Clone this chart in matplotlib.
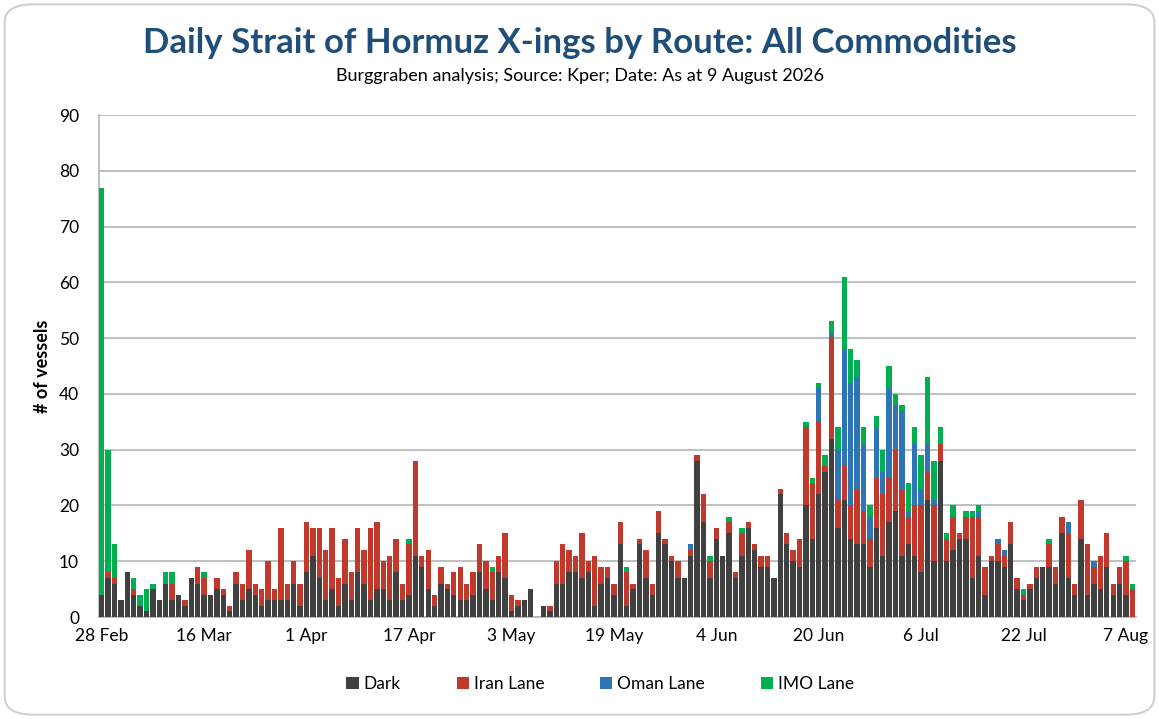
import numpy as np
import pandas as pd
import matplotlib
matplotlib.use("Agg")
import matplotlib.pyplot as plt
from matplotlib.patches import FancyBboxPatch

# daily crossings, 28 Feb .. 8 Aug 2026 (one row = 16 days)
dark = [
    4, 7, 6, 3, 8, 4, 2, 1, 5, 3, 6, 3, 4, 2, 7, 6,
    4, 4, 5, 4, 1, 6, 3, 5, 4, 2, 3, 3, 3, 3, 6, 2,
    8, 11, 7, 3, 5, 2, 6, 3, 8, 6, 3, 5, 5, 3, 8, 3,
    4, 11, 9, 5, 2, 6, 5, 4, 3, 3, 4, 8, 5, 3, 8, 7,
    1, 2, 3, 5, 0, 2, 1, 6, 6, 8, 8, 7, 8, 2, 6, 7,
    4, 13, 2, 5, 13, 7, 4, 15, 13, 10, 7, 7, 11, 28, 17, 7,
    14, 11, 15, 7, 11, 16, 12, 9, 9, 7, 22, 13, 10, 9, 20, 14,
    22, 26, 32, 16, 21, 14, 13, 13, 9, 16, 11, 17, 19, 11, 13, 11,
    8, 21, 10, 28, 10, 12, 14, 14, 7, 11, 4, 10, 10, 9, 13, 5,
    3, 5, 7, 9, 9, 6, 15, 7, 4, 14, 4, 6, 5, 9, 4, 6,
    4, 0,
]
iran = [
    0, 1, 1, 0, 0, 1, 0, 0, 0, 0, 0, 3, 0, 1, 0, 3,
    3, 0, 2, 1, 1, 2, 3, 7, 2, 3, 7, 2, 13, 3, 4, 4,
    9, 5, 9, 9, 11, 5, 8, 5, 8, 6, 13, 12, 5, 8, 6, 3,
    9, 17, 2, 7, 2, 3, 1, 4, 6, 3, 4, 5, 5, 5, 3, 8,
    3, 1, 0, 0, 0, 0, 1, 4, 7, 4, 3, 8, 2, 9, 3, 2,
    2, 4, 6, 1, 1, 5, 2, 4, 1, 1, 3, 0, 1, 1, 5, 3,
    2, 0, 2, 1, 4, 1, 1, 2, 2, 0, 1, 2, 2, 5, 14, 10,
    13, 1, 18, 5, 6, 6, 10, 6, 5, 9, 11, 8, 11, 12, 5, 9,
    12, 5, 10, 3, 4, 6, 1, 4, 11, 7, 5, 1, 3, 2, 4, 2,
    1, 1, 2, 0, 4, 3, 3, 8, 2, 7, 9, 3, 6, 6, 2, 3,
    6, 5,
]
oman = [
    0, 0, 0, 0, 0, 0, 0, 0, 0, 0, 0, 0, 0, 0, 0, 0,
    0, 0, 0, 0, 0, 0, 0, 0, 0, 0, 0, 0, 0, 0, 0, 0,
    0, 0, 0, 0, 0, 0, 0, 0, 0, 0, 0, 0, 0, 0, 0, 0,
    0, 0, 0, 0, 0, 0, 0, 0, 0, 0, 0, 0, 0, 0, 0, 0,
    0, 0, 0, 0, 0, 0, 0, 0, 0, 0, 0, 0, 0, 0, 0, 0,
    0, 0, 0, 0, 0, 0, 0, 0, 0, 0, 0, 0, 1, 0, 0, 0,
    0, 0, 0, 0, 0, 0, 0, 0, 0, 0, 0, 0, 0, 0, 0, 0,
    6, 0, 1, 9, 21, 22, 20, 12, 4, 9, 4, 16, 8, 14, 1, 11,
    3, 5, 1, 0, 0, 0, 0, 0, 0, 1, 0, 0, 1, 1, 0, 0,
    0, 0, 0, 0, 0, 0, 0, 2, 0, 0, 0, 1, 0, 0, 0, 0,
    0, 0,
]
imo = [
    73, 22, 6, 0, 0, 2, 2, 4, 1, 0, 2, 2, 0, 0, 0, 0,
    1, 0, 0, 0, 0, 0, 0, 0, 0, 0, 0, 0, 0, 0, 0, 0,
    0, 0, 0, 0, 0, 0, 0, 0, 0, 0, 0, 0, 0, 0, 0, 0,
    1, 0, 0, 0, 0, 0, 0, 0, 0, 0, 0, 0, 0, 1, 0, 0,
    0, 0, 0, 0, 0, 0, 0, 0, 0, 0, 0, 0, 0, 0, 0, 0,
    0, 0, 1, 0, 0, 0, 0, 0, 0, 0, 0, 0, 0, 0, 0, 1,
    0, 0, 1, 0, 1, 0, 0, 0, 0, 0, 0, 0, 0, 0, 1, 1,
    1, 2, 2, 4, 13, 6, 3, 3, 2, 2, 4, 4, 2, 1, 5, 3,
    6, 12, 7, 3, 1, 2, 0, 1, 1, 1, 0, 0, 0, 0, 0, 0,
    1, 0, 0, 0, 1, 0, 0, 0, 0, 0, 0, 0, 0, 0, 0, 0,
    1, 1,
]

dias = pd.date_range("2026-02-28", periods=len(dark), freq="D")
series = [("Dark", dark, "#404040"),
          ("Iran Lane", iran, "#C0392B"),
          ("Oman Lane", oman, "#2E75B6"),
          ("IMO Lane", imo, "#00B050")]

FONTE = ["Lato", "DejaVu Sans"]
plt.rcParams["font.family"] = FONTE

fig = plt.figure(figsize=(11.59, 7.19), dpi=100)
fig.patches.append(FancyBboxPatch((0.004, 0.006), 0.992, 0.988,
                                  boxstyle="round,pad=0,rounding_size=0.025",
                                  transform=fig.transFigure, facecolor="white",
                                  edgecolor="#D0D0D0", linewidth=1.5, zorder=-1))

ax = fig.add_axes([98.5 / 1159, 102 / 719, (1135.6 - 98.5) / 1159, 502 / 719])
x = np.arange(len(dias))
base = np.zeros(len(dias))
for nome, vals, cor in series:
    v = np.array(vals, dtype=float)
    ax.bar(x, v, 0.84, bottom=base, color=cor, label=nome, zorder=3)
    base += v

ax.set_xlim(-0.5, len(dias) - 0.5)
ax.set_ylim(0, 90)
ax.set_yticks(range(0, 91, 10))
ticks = x[::16]
ax.set_xticks(ticks)
ax.set_xticklabels([f"{d.day} {d.strftime('%b')}" for d in dias[ticks]])
ax.tick_params(axis="both", length=0, labelsize=12.5, colors="#000000")
ax.tick_params(axis="x", pad=8)
ax.tick_params(axis="y", pad=14)
ax.grid(axis="y", color="#B4B4B4", linewidth=1.2, zorder=0)
for lado in ["top", "right"]:
    ax.spines[lado].set_visible(False)
ax.spines["left"].set_color("#B4B4B4")
ax.spines["bottom"].set_color("#B4B4B4")
ax.spines["left"].set_linewidth(1.2)
ax.spines["bottom"].set_linewidth(1.2)
ax.set_ylabel("# of vessels", fontsize=13, fontweight="bold", labelpad=6)

fig.text(0.5, 0.94, "Daily Strait of Hormuz X-ings by Route: All Commodities",
         ha="center", va="center", fontsize=25, fontweight="bold", color="#1F4E79")
fig.text(0.5, 0.894, "Burggraben analysis; Source: Kper; Date: As at 9 August 2026",
         ha="center", va="center", fontsize=13, color="#000000")

fig.legend(loc="center", bbox_to_anchor=(0.518, 0.049), ncol=4, frameon=False,
           fontsize=12.5, handlelength=0.7, handleheight=0.7, handletextpad=0.3,
           columnspacing=3.2)

fig.savefig("out.png", dpi=100)
